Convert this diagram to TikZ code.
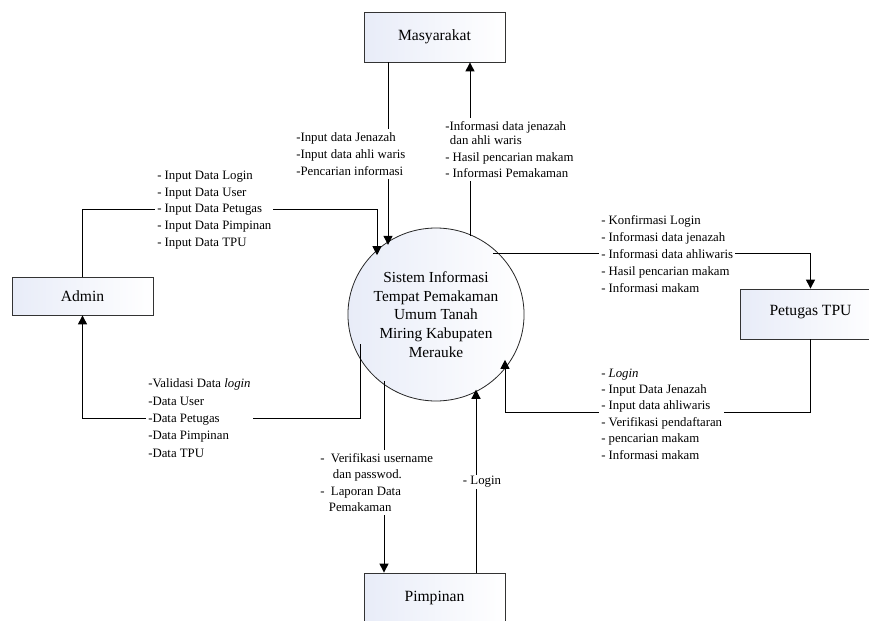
\documentclass[tikz,border=0pt]{standalone}
\usepackage{fontspec}
\setmainfont{Liberation Serif}
\usetikzlibrary{arrows.meta,shapes.geometric,calc}
\definecolor{boxblue}{RGB}{232,236,248}
\begin{document}
\begin{tikzpicture}[x=0.75pt,y=-0.75pt,
  ent/.style={draw=black!80, line width=0.6pt, left color=boxblue, right color=white,
    minimum width=105.75pt, inner sep=0pt, font=\fontsize{11.7}{14}\selectfont},
  proc/.style={ellipse, draw=black!85, line width=0.6pt, left color=boxblue, right color=white,
    minimum width=121.5pt, minimum height=129.75pt, inner sep=0pt, align=center, font=\fontsize{11.5}{14.1}\selectfont},
  lbl/.style={fill=white, inner xsep=1.5pt, inner ysep=2.5pt, align=left, anchor=west, font=\fontsize{9.6}{12.6}\selectfont},
  flow/.style={draw, line width=0.75pt, -{Triangle[length=6.8pt,width=6.8pt]}}
]
\useasboundingbox (0,0) rectangle (869,621);
\clip (0,0) rectangle (869,621);

% entities
\node[ent, minimum height=37.5pt] (m) at (434.5,37) {Masyarakat};
\node[ent, minimum height=28.5pt] (a) at (82.5,296) {Admin};
\node[ent, minimum height=37.5pt] (p) at (810.5,314) {\raisebox{5pt}{Petugas TPU}};
\node[ent, minimum height=37.5pt] (k) at (434.5,598) {Pimpinan};
\node[proc] (c) at (436,314.5) {Sistem Informasi\\Tempat Pemakaman\\Umum Tanah\\Miring Kabupaten\\Merauke};

% points on the process border
\coordinate (cA) at ($(c.center)+(-48,{-86.5*sqrt(1-(48/81)^2)})$);
\coordinate (cB) at ($(c.center)+(34,{-86.5*sqrt(1-(34/81)^2)})$);
\coordinate (cC) at ($(c.center)+(-59,{-86.5*sqrt(1-(59/81)^2)})$);
\coordinate (cD) at ($(c.center)+(-76,{86.5*sqrt(1-(76/81)^2)})$);
\coordinate (cE) at ($(c.center)+({81*sqrt(1-(61.5/86.5)^2)},-61.5)$);
\coordinate (cF) at ($(c.center)+(69,{86.5*sqrt(1-(69/81)^2)})$);
\coordinate (cG) at ($(c.center)+(-52,{86.5*sqrt(1-(52/81)^2)})$);
\coordinate (cH) at ($(c.center)+(40,{86.5*sqrt(1-(40/81)^2)})$);

% flows
\draw[flow] ($(m.south)+(-46.5,0)$) -- (cA);
\draw[flow] (cB) -- ($(m.south)+(35.5,0)$);
\draw[flow] (a.north) -- ++(0,-67) -| (cC);
\draw[flow] (cD) |- ($(a.south)+(0,103)$) -- (a.south);
\draw[flow] (cE) -| (p.north);
\draw[flow] (p.south) -- ++(0,73) -| (cF);
\draw[flow] (cG) -- ($(k.north)+(-50.5,0)$);
\draw[flow] ($(k.north)+(41.5,0)$) -- (cH);

% labels
\node[lbl] (lA) at (294,154) {-Input data Jenazah\\-Input data ahli waris\\-Pencarian informasi};
\node[lbl] (lB) at (443,149.5) {-Informasi data jenazah\\[-2pt]\hspace*{3.5pt}dan ahli waris\\- Hasil pencarian makam\\- Informasi Pemakaman};
\node[lbl] (lC) at (155,210) {- Input Data Login\\- Input Data User\\- Input Data Petugas\\- Input Data Pimpinan\\- Input Data TPU};
\node[lbl, font=\fontsize{9.6}{13}\selectfont] (lD) at (146,418) {-Validasi Data \textit{login}\\-Data User\\-Data Petugas\\-Data Pimpinan\\-Data TPU};
\node[lbl] (lE) at (599,254) {- Konfirmasi Login\\- Informasi data jenazah\\- Informasi data ahliwaris\\- Hasil pencarian makam\\- Informasi makam};
\node[lbl, font=\fontsize{9.6}{12.3}\selectfont] (lF) at (599,414) {- \textit{Login}\\- Input Data Jenazah\\- Input data ahliwaris\\- Verifikasi pendaftaran\\- pencarian makam\\- Informasi makam};
\node[lbl, font=\fontsize{9.6}{12.2}\selectfont] (lG) at (318,482.5) {\makebox[8pt][l]{-}Verifikasi username\\\hspace*{9.5pt}dan passwod.\\\makebox[8pt][l]{-}Laporan Data\\\hspace*{6.5pt}Pemakaman};
\node[fill=white, inner sep=1pt, font=\fontsize{9.6}{12}\selectfont] (lH) at (482,482) {- Login};
\end{tikzpicture}
\end{document}
